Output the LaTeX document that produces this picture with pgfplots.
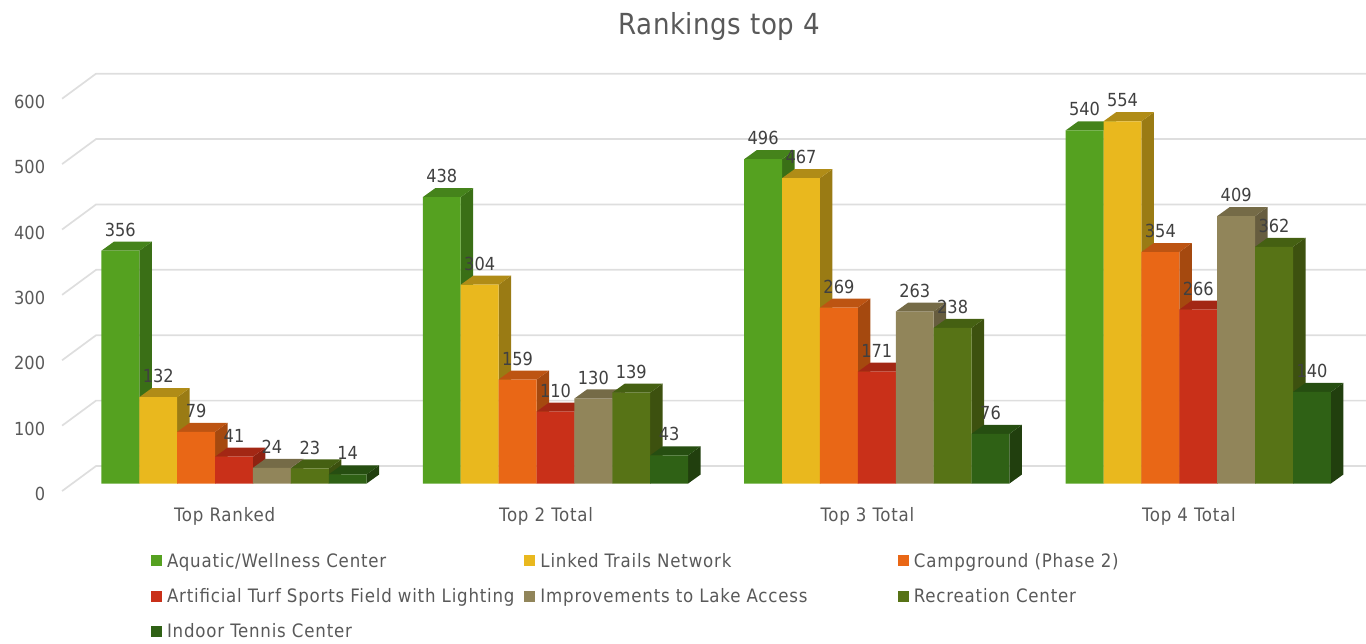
\documentclass[border=0pt]{standalone}
\usepackage{pgfplots}
\pgfplotsset{compat=1.18}
\usepackage{fontspec}
\setmainfont{DejaVu Sans Condensed}
\newfontfamily\widefont[LetterSpace=4.3]{DejaVu Sans Condensed}
\newfontfamily\titlefont[LetterSpace=2]{DejaVu Sans Condensed}
\definecolor{fA}{HTML}{55A120}\definecolor{sA}{HTML}{3A6F16}\definecolor{tA}{HTML}{45831B}
\definecolor{fB}{HTML}{E9B81E}\definecolor{sB}{HTML}{9A7B14}\definecolor{tB}{HTML}{B08C17}
\definecolor{fC}{HTML}{E96716}\definecolor{sC}{HTML}{A5490F}\definecolor{tC}{HTML}{BD5412}
\definecolor{fD}{HTML}{C93019}\definecolor{sD}{HTML}{8F2211}\definecolor{tD}{HTML}{A32714}
\definecolor{fE}{HTML}{91855A}\definecolor{sE}{HTML}{675D3F}\definecolor{tE}{HTML}{756B47}
\definecolor{fF}{HTML}{577316}\definecolor{sF}{HTML}{3D510F}\definecolor{tF}{HTML}{456012}
\definecolor{fG}{HTML}{2F6115}\definecolor{sG}{HTML}{213F0E}\definecolor{tG}{HTML}{264E11}
\definecolor{gridc}{HTML}{DEDEDE}\definecolor{txtc}{HTML}{595959}\definecolor{labc}{HTML}{404040}
% side and top faces of one bar: left edge x, value v, series letter
\newcommand{\depthfaces}[3]{%
  \pgfmathsetmacro\xr{#1+37.9}\pgfmathsetmacro\xs{#1+12.5}\pgfmathsetmacro\xb{#1+50.4}\pgfmathsetmacro\vb{#2+13.8}%
  \addplot[draw=none,fill=s#3,forget plot] coordinates {(\xr,0) (\xb,13.8) (\xb,\vb) (\xr,#2)} -- cycle;
  \addplot[draw=none,fill=t#3,forget plot] coordinates {(#1,#2) (\xs,\vb) (\xb,\vb) (\xr,#2)} -- cycle;
}
\newcommand{\grl}[3]{\addplot[gridc,line width=1.7pt,forget plot] coordinates {(62,#1) (96,#2) (1366,#2)};}
\begin{document}
\begin{tikzpicture}
\begin{axis}[
  scale only axis, width=1366pt, height=643pt,
  xmin=0, xmax=1366, ymin=-243.9, ymax=739.3,
  axis line style={draw=none}, major tick length=0pt,
  xtick={224.6,546.1,867.5,1189}, xticklabels={Top Ranked,Top 2 Total,Top 3 Total,Top 4 Total},
  ytick={0,100,200,300,400,500,600},
  /pgf/number format/assume math mode=true,
  tick label style={font=\fontsize{18}{20}\selectfont,text=txtc},
  xticklabel style={anchor=center,yshift=127pt,font=\fontsize{18.5}{20}\selectfont\widefont},
  yticklabel style={anchor=east,xshift=48.5pt,yshift=-10.6pt},
  title={Rankings top 4},
  title style={at={(0.5264,0.949)},anchor=center,font=\fontsize{29}{32}\selectfont\titlefont,text=txtc},
  legend columns=3,
  legend image code/.code={\path[#1] (0pt,-5.5pt) rectangle (11pt,5.5pt);},
  legend style={at={(0.1105,0.143)},anchor=north west,draw=none,fill=none,inner sep=0pt,outer sep=0pt,
    font=\fontsize{18.5}{20}\selectfont\widefont,text=txtc,
    cells={anchor=west},row sep=15.8pt,
    /tikz/every odd column/.append style={column sep=3pt}},
  every node near coord/.append style={font=\fontsize{18}{20}\selectfont,text=labc,anchor=center,yshift=21pt},
  nodes near coords style={/pgf/number format/assume math mode=true},
]
\grl{-11.5}{26.8}{0}
\grl{88.5}{126.8}{100}
\grl{188.5}{226.8}{200}
\grl{288.5}{326.8}{300}
\grl{388.5}{426.8}{400}
\grl{488.5}{526.8}{500}
\grl{588.5}{626.8}{600}

\depthfaces{101.3}{356}{A}\depthfaces{422.8}{438}{A}\depthfaces{744.2}{496}{A}\depthfaces{1065.7}{540}{A}
\addplot[ybar,bar shift=0pt,bar width=37.9,draw=none,fill=fA,forget plot] coordinates {(120.25,356) (441.75,438) (763.15,496) (1084.65,540)};
\depthfaces{139.2}{132}{B}\depthfaces{460.7}{304}{B}\depthfaces{782.1}{467}{B}\depthfaces{1103.6}{554}{B}
\addplot[ybar,bar shift=0pt,bar width=37.9,draw=none,fill=fB,forget plot] coordinates {(158.15,132) (479.65,304) (801.05,467) (1122.55,554)};
\depthfaces{177.1}{79}{C}\depthfaces{498.6}{159}{C}\depthfaces{820.0}{269}{C}\depthfaces{1141.5}{354}{C}
\addplot[ybar,bar shift=0pt,bar width=37.9,draw=none,fill=fC,forget plot] coordinates {(196.05,79) (517.55,159) (838.95,269) (1160.45,354)};
\depthfaces{215.0}{41}{D}\depthfaces{536.5}{110}{D}\depthfaces{857.9}{171}{D}\depthfaces{1179.4}{266}{D}
\addplot[ybar,bar shift=0pt,bar width=37.9,draw=none,fill=fD,forget plot] coordinates {(233.95,41) (555.45,110) (876.85,171) (1198.35,266)};
\depthfaces{252.9}{24}{E}\depthfaces{574.4}{130}{E}\depthfaces{895.8}{263}{E}\depthfaces{1217.3}{409}{E}
\addplot[ybar,bar shift=0pt,bar width=37.9,draw=none,fill=fE,forget plot] coordinates {(271.85,24) (593.35,130) (914.75,263) (1236.25,409)};
\depthfaces{290.8}{23}{F}\depthfaces{612.3}{139}{F}\depthfaces{933.7}{238}{F}\depthfaces{1255.2}{362}{F}
\addplot[ybar,bar shift=0pt,bar width=37.9,draw=none,fill=fF,forget plot] coordinates {(309.75,23) (631.25,139) (952.65,238) (1274.15,362)};
\depthfaces{328.7}{14}{G}\depthfaces{650.2}{43}{G}\depthfaces{971.6}{76}{G}\depthfaces{1293.1}{140}{G}
\addplot[ybar,bar shift=0pt,bar width=37.9,draw=none,fill=fG,forget plot] coordinates {(347.65,14) (669.15,43) (990.55,76) (1312.05,140)};

% value labels, on top of all faces
\addplot[draw=none,mark=none,nodes near coords,forget plot] coordinates {(120.25,356) (441.75,438) (763.15,496) (1084.65,540)};
\addplot[draw=none,mark=none,nodes near coords,forget plot] coordinates {(158.15,132) (479.65,304) (801.05,467) (1122.55,554)};
\addplot[draw=none,mark=none,nodes near coords,forget plot] coordinates {(196.05,79) (517.55,159) (838.95,269) (1160.45,354)};
\addplot[draw=none,mark=none,nodes near coords,forget plot] coordinates {(233.95,41) (555.45,110) (876.85,171) (1198.35,266)};
\addplot[draw=none,mark=none,nodes near coords,forget plot] coordinates {(271.85,24) (593.35,130) (914.75,263) (1236.25,409)};
\addplot[draw=none,mark=none,nodes near coords,forget plot] coordinates {(309.75,23) (631.25,139) (952.65,238) (1274.15,362)};
\addplot[draw=none,mark=none,nodes near coords,forget plot] coordinates {(347.65,14) (669.15,43) (990.55,76) (1312.05,140)};

\addlegendimage{fill=fA,draw=none}\addlegendentry{\makebox[355.5pt][l]{Aquatic/Wellness Center}}
\addlegendimage{fill=fB,draw=none}\addlegendentry{\makebox[355.5pt][l]{Linked Trails Network}}
\addlegendimage{fill=fC,draw=none}\addlegendentry{\makebox[355.5pt][l]{Campground (Phase 2)}}
\addlegendimage{fill=fD,draw=none}\addlegendentry{\makebox[355.5pt][l]{Artificial Turf Sports Field with Lighting}}
\addlegendimage{fill=fE,draw=none}\addlegendentry{\makebox[355.5pt][l]{Improvements to Lake Access}}
\addlegendimage{fill=fF,draw=none}\addlegendentry{\makebox[355.5pt][l]{Recreation Center}}
\addlegendimage{fill=fG,draw=none}\addlegendentry{\makebox[355.5pt][l]{Indoor Tennis Center}}
\end{axis}
\end{tikzpicture}
\end{document}
